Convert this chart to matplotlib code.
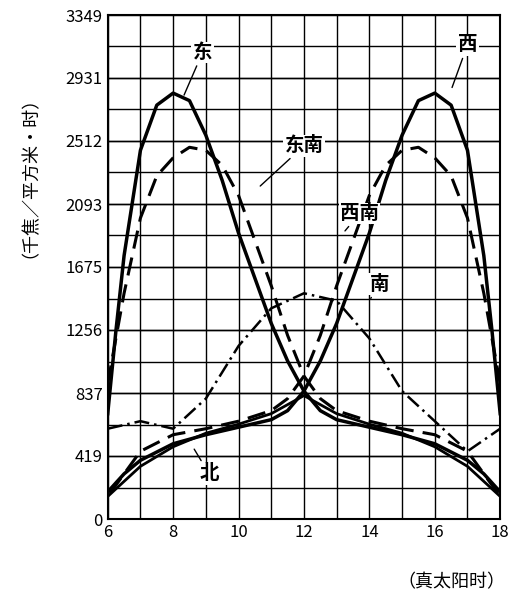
import matplotlib
matplotlib.use("Agg")
import matplotlib.pyplot as plt
import numpy as np

plt.rcParams['font.family'] = ['Noto Sans CJK SC', 'DejaVu Sans']

hours_e = [6, 6.25, 6.5, 7, 7.5, 8, 8.5, 9, 9.5, 10, 10.5, 11, 11.5, 12, 12.5, 13, 14, 15, 16, 17, 17.5, 18]
east = [700, 1250, 1750, 2450, 2750, 2830, 2780, 2550, 2250, 1900, 1600, 1300, 1050, 850, 720, 660, 610, 560, 500, 390, 300, 180]
hours_w = [24 - h for h in hours_e]
west = east
hours_se = [6, 6.5, 7, 7.5, 8, 8.5, 9, 9.5, 10, 10.5, 11, 11.5, 12, 12.5, 13, 14, 15, 16, 17, 18]
southeast = [900, 1500, 2000, 2280, 2400, 2470, 2450, 2350, 2150, 1850, 1550, 1220, 950, 800, 720, 650, 600, 560, 450, 150]
hours_sw = [24 - h for h in hours_se]
southwest = southeast
hours_s = [6, 7, 8, 9, 10, 11, 12, 13, 14, 15, 16, 17, 18]
south = [600, 650, 600, 800, 1150, 1400, 1500, 1450, 1200, 850, 650, 450, 600]
north = [150, 350, 480, 570, 630, 700, 820, 700, 630, 570, 480, 350, 150]
yticks = [0, 419, 837, 1256, 1675, 2093, 2512, 2931, 3349]
xticks = [6, 8, 10, 12, 14, 16, 18]

fig = plt.figure(figsize=(5.13, 6.0), dpi=100)
ax = fig.add_axes([0.21, 0.135, 0.765, 0.84])
ax.set_xlim(6, 18)
ax.set_ylim(0, 3349)
ax.set_xticks(xticks)
ax.set_yticks(yticks)
ax.set_xticks(np.arange(6, 18.01, 1), minor=True)
ax.set_yticks(np.linspace(0, 3349, 17), minor=True)
ax.grid(True, which='both', color='black', lw=1.0)
ax.tick_params(which='minor', length=0)
ax.tick_params(labelsize=12, length=0)
for s in ax.spines.values():
    s.set_linewidth(1.5)

k = dict(color='black')
ax.plot(hours_e, east, lw=2.5, **k)
ax.plot(hours_w, west, lw=2.5, **k)
ax.plot(hours_se, southeast, lw=2.2, ls=(0, (6, 3)), **k)
ax.plot(hours_sw, southwest, lw=2.2, ls=(0, (6, 3)), **k)
ax.plot(hours_s, south, lw=1.8, ls=(0, (6, 2, 1, 2)), **k)
ax.plot(hours_s, north, lw=2.0, **k)

def lab(t, x, y, lx, ly):
    ax.annotate(t, xy=(lx, ly), xytext=(x, y), fontsize=14, fontweight='bold',
                ha='center', va='center',
                bbox=dict(fc='white', ec='none', pad=1),
                arrowprops=dict(arrowstyle='-', color='black', lw=1))

lab('东', 8.9, 3100, 8.3, 2800)
lab('西', 17.0, 3150, 16.5, 2850)
lab('东南', 12.0, 2480, 10.6, 2200)
lab('西南', 13.7, 2030, 13.2, 1900)
lab('南', 14.3, 1560, 14.0, 1450)
lab('北', 9.1, 300, 8.6, 480)

fig.text(0.04, 0.72, '（千焦／平方米·时）', rotation=90, fontsize=13, ha='center', va='center')
fig.text(0.88, 0.03, '（真太阳时）', fontsize=13, ha='center', va='center')

fig.savefig('out.png', dpi=100)
